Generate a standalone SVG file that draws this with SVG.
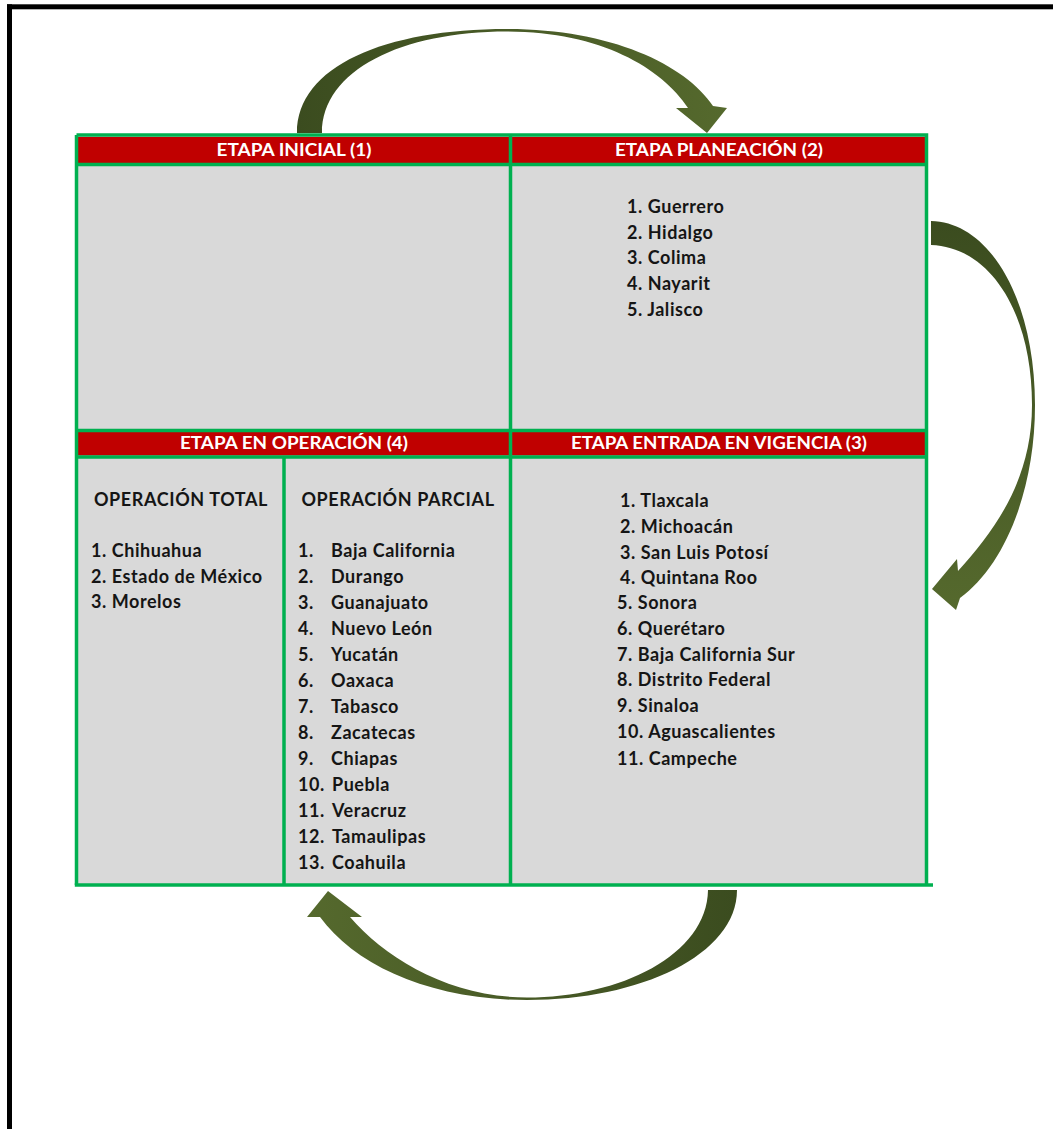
<svg xmlns="http://www.w3.org/2000/svg" width="1053" height="1129" viewBox="0 0 1053 1129">
<defs>
<style>
.frame{fill:#000}
.cell{fill:#D9D9D9}
.hdr{fill:#C00000}
.grid{stroke:#00B050;stroke-width:3.5;fill:none}
.ht{font-family:Lato,"Open Sans",sans-serif;font-weight:bold;font-size:16.5px;fill:#fff;text-anchor:middle}
.sub{font-family:Lato,"Open Sans",sans-serif;font-weight:bold;font-size:18px;letter-spacing:0.6px;fill:#151515;text-anchor:middle}
.li{font-family:Lato,"Open Sans",sans-serif;font-weight:bold;font-size:18px;letter-spacing:0.55px;fill:#151515}
</style>
<linearGradient id="gTop" x1="0" y1="0" x2="1" y2="0">
<stop offset="0" stop-color="#3B4C1F"/><stop offset="1" stop-color="#55692D"/>
</linearGradient>
<linearGradient id="gRight" x1="0" y1="0" x2="0" y2="1">
<stop offset="0" stop-color="#3B4C1F"/><stop offset="1" stop-color="#55692D"/>
</linearGradient>
<linearGradient id="gBottom" x1="1" y1="0" x2="0" y2="0">
<stop offset="0" stop-color="#3B4C1F"/><stop offset="1" stop-color="#55692D"/>
</linearGradient>
</defs>
<rect x="0" y="0" width="1053" height="1129" fill="#fff"/>
<g id="frame">
<rect class="frame" x="7" y="4.3" width="1046" height="5"/>
<rect class="frame" x="7" y="4.3" width="5" height="1124.7"/>
</g>
<g id="table">
<rect class="cell" x="76.5" y="135" width="850" height="750"/>
<rect class="hdr" x="78" y="137" width="847" height="26"/>
<rect class="hdr" x="78" y="432" width="847" height="23.5"/>
<path class="grid" d="M76.5 135H926.5V885M76.5 885V135M76.5 164.5H926.5M76.5 430.5H926.5M76.5 457H926.5M510.5 135V885M284 457V885"/>
<path class="grid" d="M74.8 885H933"/>
</g>
<g id="stage1">
<text class="ht" x="294" y="156" textLength="155" lengthAdjust="spacingAndGlyphs">ETAPA INICIAL (1)</text>
</g>
<g id="stage2">
<text class="ht" x="719" y="156" textLength="208" lengthAdjust="spacingAndGlyphs">ETAPA PLANEACIÓN (2)</text>
<text class="li" x="627" y="213">1. Guerrero</text>
<text class="li" x="627" y="239">2. Hidalgo</text>
<text class="li" x="627" y="264">3. Colima</text>
<text class="li" x="627" y="290">4. Nayarit</text>
<text class="li" x="627" y="316">5. Jalisco</text>
</g>
<g id="stage3">
<text class="ht" x="719" y="449" textLength="296" lengthAdjust="spacingAndGlyphs">ETAPA ENTRADA EN VIGENCIA (3)</text>
<text class="li" x="620" y="507">1. Tlaxcala</text>
<text class="li" x="620" y="533">2. Michoacán</text>
<text class="li" x="620" y="559">3. San Luis Potosí</text>
<text class="li" x="620" y="584">4. Quintana Roo</text>
<text class="li" x="617" y="609">5. Sonora</text>
<text class="li" x="617" y="635">6. Querétaro</text>
<text class="li" x="617" y="661">7. Baja California Sur</text>
<text class="li" x="617" y="686">8. Distrito Federal</text>
<text class="li" x="617" y="712">9. Sinaloa</text>
<text class="li" x="617" y="738">10. Aguascalientes</text>
<text class="li" x="617" y="765">11. Campeche</text>
</g>
<g id="stage4">
<text class="ht" x="294" y="449" textLength="228" lengthAdjust="spacingAndGlyphs">ETAPA EN OPERACIÓN (4)</text>
<g id="total">
<text class="sub" x="181" y="506">OPERACIÓN TOTAL</text>
<text class="li" x="91" y="557">1. Chihuahua</text>
<text class="li" x="91" y="583">2. Estado de México</text>
<text class="li" x="91" y="608">3. Morelos</text>
</g>
<g id="parcial">
<text class="sub" x="398" y="506">OPERACIÓN PARCIAL</text>
<text class="li" y="557"><tspan x="298">1.</tspan><tspan x="331">Baja California</tspan></text>
<text class="li" y="583"><tspan x="298">2.</tspan><tspan x="331">Durango</tspan></text>
<text class="li" y="609"><tspan x="298">3.</tspan><tspan x="331">Guanajuato</tspan></text>
<text class="li" y="635"><tspan x="298">4.</tspan><tspan x="331">Nuevo León</tspan></text>
<text class="li" y="661"><tspan x="298">5.</tspan><tspan x="331">Yucatán</tspan></text>
<text class="li" y="687"><tspan x="298">6.</tspan><tspan x="331">Oaxaca</tspan></text>
<text class="li" y="713"><tspan x="298">7.</tspan><tspan x="331">Tabasco</tspan></text>
<text class="li" y="739"><tspan x="298">8.</tspan><tspan x="331">Zacatecas</tspan></text>
<text class="li" y="765"><tspan x="298">9.</tspan><tspan x="331">Chiapas</tspan></text>
<text class="li" y="791"><tspan x="298">10.</tspan><tspan x="332">Puebla</tspan></text>
<text class="li" y="817"><tspan x="298">11.</tspan><tspan x="332">Veracruz</tspan></text>
<text class="li" y="843"><tspan x="298">12.</tspan><tspan x="332">Tamaulipas</tspan></text>
<text class="li" y="869"><tspan x="298">13.</tspan><tspan x="332">Coahuila</tspan></text>
</g>
</g>
<g id="connectors">
<path fill="url(#gTop)" d="M297 133C297 66 385 29 507 29C610 29 685 64 713 106L727 108L707 133L676 108L688 108C662 68 600 31.5 507 31.5C402 31.5 322 70 322 133Z"/>
<path fill="url(#gRight)" d="M931 221C990 222 1035 300 1035 405C1035 490 1005 565 960 598L956 610L932 589L957 559L958 571C995 530 1032 480 1032 405C1032 312 990 247 931 245Z"/>
<path fill="url(#gBottom)" d="M737 890C737 955 640 1000 527 1000C430 1000 355 965 320 917L307 917L328 891L362 917L350 917C385 958 450 997.5 527 997.5C620 997.5 707 955 708 890Z"/>
</g>
</svg>
